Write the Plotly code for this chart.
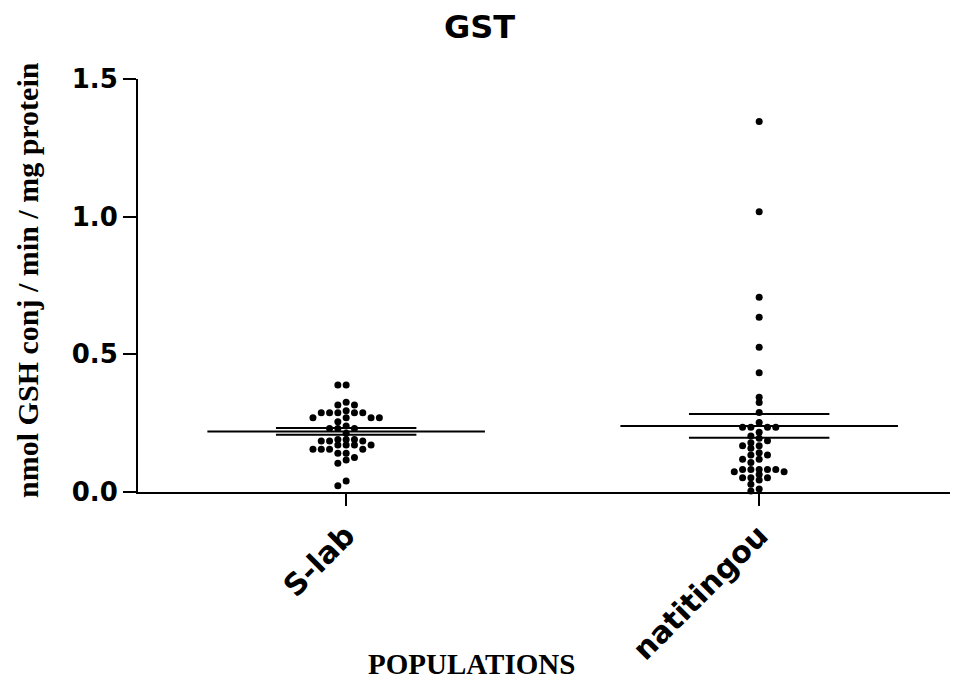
import numpy as np
import plotly.graph_objects as go

categories = ["S-lab", "natitingou"]

slab_values = [0.389, 0.389, 0.326, 0.316, 0.316, 0.295,
               0.288, 0.288, 0.288, 0.288, 0.288,
               0.270, 0.270, 0.270, 0.270, 0.255, 0.240,
               0.231, 0.231, 0.231, 0.213,
               0.191, 0.191, 0.191, 0.185, 0.185, 0.185,
               0.171, 0.171, 0.171, 0.171, 0.155, 0.155, 0.155, 0.155,
               0.141, 0.141, 0.125, 0.116, 0.104, 0.040, 0.023]

nati_values = [1.346, 1.018, 0.707, 0.635, 0.526, 0.433, 0.344, 0.325,
               0.289, 0.252, 0.235, 0.235, 0.235, 0.235, 0.217, 0.203,
               0.195, 0.186, 0.179, 0.168, 0.168, 0.159, 0.143, 0.134,
               0.134, 0.119, 0.119, 0.107, 0.082, 0.082, 0.082, 0.082,
               0.082, 0.074, 0.074, 0.064, 0.052, 0.052, 0.052, 0.044,
               0.028, 0.011, 0.004]

group_means = [0.220, 0.240]
group_sems = [0.012, 0.043]

y_ticks = [0.0, 0.5, 1.0, 1.5]

COL_STEP = 0.0201      # horizontal column spacing in category units
Y_GAP = 0.018          # minimal vertical gap in a column (data units)

SANS = "DejaVu Sans, Arial"
SERIF = "Liberation Serif, Times New Roman"


def swarm_offsets(vals):
    order = np.argsort(vals)[::-1]
    placed = []
    offs = np.zeros(len(vals))
    cands = [0]
    for n in range(1, 20):
        cands += [-n, n]
    for i in order:
        v = vals[i]
        k = 0
        for c in cands:
            if all(not (pc == c and abs(pv - v) < Y_GAP) for pc, pv in placed):
                k = c
                break
        placed.append((k, v))
        offs[i] = k * COL_STEP
    return offs


fig = go.Figure()
groups = [slab_values, nati_values]
for gi, vals in enumerate(groups):
    vals = np.array(vals)
    xs = gi + swarm_offsets(vals)
    fig.add_trace(go.Scatter(x=xs, y=vals, mode="markers",
                             marker=dict(color="black", size=7, line=dict(width=0)),
                             cliponaxis=False, showlegend=False, hoverinfo="y"))
    m, s = group_means[gi], group_sems[gi]
    fig.add_trace(go.Scatter(x=[gi - 0.336, gi + 0.336], y=[m, m], mode="lines",
                             line=dict(color="black", width=2), showlegend=False))
    for yy in (m - s, m + s):
        fig.add_trace(go.Scatter(x=[gi - 0.17, gi + 0.17], y=[yy, yy], mode="lines",
                                 line=dict(color="black", width=2), showlegend=False))

fig.update_layout(
    width=953, height=684,
    margin=dict(l=138, r=3, t=79, b=192),
    paper_bgcolor="white", plot_bgcolor="white",
    xaxis=dict(range=[-0.504, 1.462], tickmode="array", tickvals=[0, 1],
               ticktext=categories, tickangle=-45, showline=True,
               linecolor="black", linewidth=2, ticks="outside", ticklen=12,
               tickwidth=2, tickcolor="black", showgrid=False, zeroline=False,
               tickfont=dict(family=SANS, size=30, color="black", weight="bold")),
    yaxis=dict(range=[0, 1.5], tickmode="array", tickvals=y_ticks,
               ticktext=[f"{t:.1f}" for t in y_ticks], showline=True,
               linecolor="black", linewidth=2, ticks="outside", ticklen=13,
               tickwidth=2, tickcolor="black", showgrid=False, zeroline=False,
               tickfont=dict(family=SANS, size=26, color="black", weight="bold")),
    annotations=[
        dict(text="<b>GST</b>", x=0.421, y=1.126, xref="paper", yref="paper",
             showarrow=False, font=dict(family=SANS, size=32, color="black"),
             xanchor="center", yanchor="middle"),
        dict(text="<b>nmol GSH conj / min / mg protein</b>", x=-0.137, y=0.513,
             xref="paper", yref="paper", showarrow=False, textangle=-90,
             font=dict(family=SERIF, size=30, color="black"),
             xanchor="center", yanchor="middle"),
        dict(text="<b>POPULATIONS</b>", x=0.411, y=-0.46, xref="paper",
             yref="paper", showarrow=False,
             font=dict(family=SERIF, size=29, color="black"),
             xanchor="center", yanchor="bottom"),
    ],
)

fig.write_html("out.html")
